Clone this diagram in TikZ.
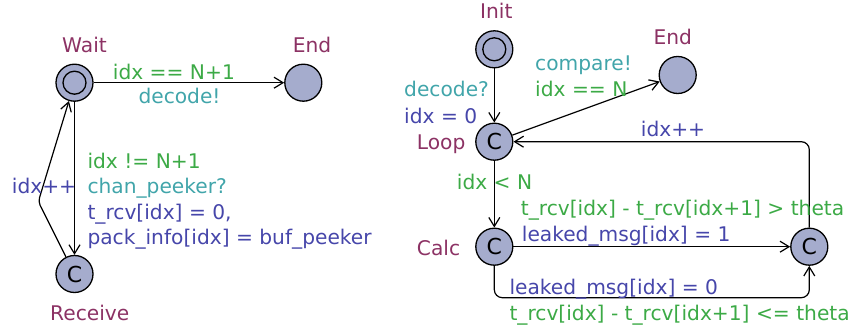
\documentclass[tikz,border=0pt]{standalone}
\usepackage{fontspec}
\setmainfont{DejaVu Sans}
\usetikzlibrary{arrows.meta}
\definecolor{nm}{RGB}{140,50,100}
\definecolor{gd}{RGB}{60,170,70}
\definecolor{sy}{RGB}{65,165,170}
\definecolor{as}{RGB}{70,70,170}
\definecolor{locfill}{RGB}{165,172,205}
\tikzset{
  loc/.style={circle,draw,line width=1.3pt,fill=locfill,minimum size=37pt,inner sep=0pt,font=\fontsize{22}{22}\selectfont},
  initloc/.style={loc,path picture={\draw[line width=1.3pt] (path picture bounding box.center) circle (11.5pt);}},
  lbl/.style={anchor=base west,inner sep=0pt,font=\fontsize{20.2}{20}\selectfont},
  edge/.style={line width=1.2pt,-{Straight Barb[length=9pt,width=11pt,line width=1.2pt]}},
}
\begin{document}
\begin{tikzpicture}[x=1pt,y=-1pt]
\useasboundingbox (0,0) rectangle (862,331);
% ---------- left automaton ----------
\node[initloc] (wait) at (74.5,82.7) {};
\node[loc] (end1) at (303.3,82.7) {};
\node[loc] (rcv) at (74.5,274) {C};
\coordinate (b1) at (38.3,201.7);
\node[lbl,text=nm] (nwait) at (62,53) {Wait};
\node[lbl,text=nm] (nend1) at (292.7,53) {End};
\node[lbl,text=nm] (nrcv) at (50,320) {Receive};
\draw[edge] (wait) -- (end1);
\draw[edge] (wait) -- (rcv);
\draw[edge,rounded corners=4pt] (rcv) -- (b1) -- (wait);
\node[lbl,text=gd] (g1) at (112.7,79.3) {idx == N+1};
\node[lbl,text=sy] (s1) at (138.3,104) {decode!};
\node[lbl,text=gd] (g2) at (87.3,168.3) {idx != N+1};
\node[lbl,text=sy] (s2) at (87.3,194) {chan\_peeker?};
\node[lbl,text=as] (a2) at (87.3,219.3) {t\_rcv[idx] = 0,};
\node[lbl,text=as] (a2b) at (87.3,244) {pack\_info[idx] = buf\_peeker};
\node[lbl,text=as] (a3) at (11.7,194) {idx++};
% ---------- right automaton ----------
\node[initloc] (init) at (494.3,49.3) {};
\node[loc] (end2) at (677.7,75) {};
\node[loc] (loop) at (494.3,141.7) {C};
\node[loc] (calc) at (494.3,246.7) {C};
\node[loc] (cr) at (809.3,246.7) {C};
\coordinate (bot) at (494.3,297.7);
\node[lbl,text=nm] (ninit) at (480,18.3) {Init};
\node[lbl,text=nm] (nend2) at (653.3,44.3) {End};
\node[lbl,text=nm] (nloop) at (416.7,150) {Loop};
\node[lbl,text=nm] (ncalc) at (416.7,255) {Calc};
\draw[edge] (init) -- (loop);
\draw[edge] (loop) -- (end2);
\draw[edge] (loop) -- (calc);
\draw[edge] (calc) -- (cr);
\draw[edge,rounded corners=8pt] (cr) -- (cr |- loop) -- (loop);
\draw[edge,rounded corners=8pt] (calc) -- (bot) -- (cr |- bot) -- (cr);
\node[lbl,text=sy] (s4) at (404,96.7) {decode?};
\node[lbl,text=as] (a4) at (404,123.3) {idx = 0};
\node[lbl,text=sy] (s5) at (535,71) {compare!};
\node[lbl,text=gd] (g5) at (535,96.7) {idx == N};
\node[lbl,text=as] (a6) at (640.7,136.7) {idx++};
\node[lbl,text=gd] (g7) at (456.7,190) {idx < N};
\node[lbl,text=gd] (g8) at (520.7,216) {t\_rcv[idx] - t\_rcv[idx+1] > theta};
\node[lbl,text=as] (a8) at (521.7,241.7) {leaked\_msg[idx] = 1};
\node[lbl,text=as] (a9) at (509.3,294.3) {leaked\_msg[idx] = 0};
\node[lbl,text=gd] (g9) at (509.3,320.7) {t\_rcv[idx] - t\_rcv[idx+1] <= theta};
\end{tikzpicture}
\end{document}
